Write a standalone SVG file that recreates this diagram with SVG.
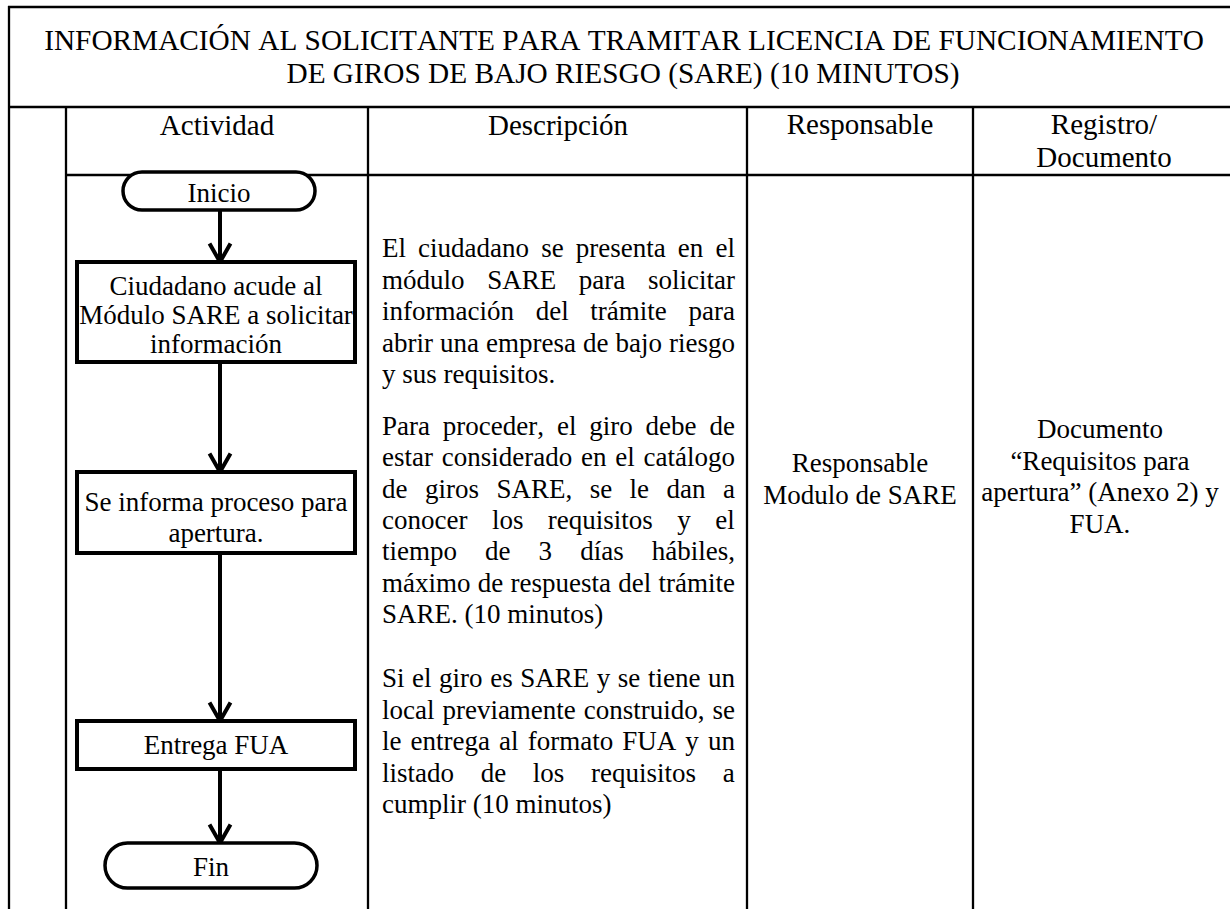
<svg xmlns="http://www.w3.org/2000/svg" width="1230" height="909" viewBox="0 0 1230 909">
<style>
text{font-family:"Liberation Serif","Times New Roman",serif;fill:#000;font-kerning:none}
.title{font-size:29.3px;text-anchor:middle}
.hd{font-size:29px;text-anchor:middle}
.b{font-size:27px}
.c{font-size:27px;text-anchor:middle}
.grid{stroke:#000;stroke-width:2.3;fill:none}
.box{fill:#fff;stroke:#000;stroke-width:4}
.term{fill:#fff;stroke:#000;stroke-width:3.5}
.conn{stroke:#000;stroke-width:4;fill:none;stroke-linejoin:miter}
</style>
<rect width="1230" height="909" fill="#fff"/>
<g id="table" class="grid">
<line x1="8" y1="7" x2="1230" y2="7"/>
<line x1="9" y1="6" x2="9" y2="909"/>
<line x1="9" y1="107" x2="1230" y2="107"/>
<line x1="66" y1="107" x2="66" y2="909"/>
<line x1="66" y1="175" x2="1230" y2="175"/>
<line x1="368" y1="107" x2="368" y2="909"/>
<line x1="747" y1="107" x2="747" y2="909"/>
<line x1="973" y1="107" x2="973" y2="909"/>
</g>
<g id="title">
<text class="title" x="624" y="50">INFORMACIÓN AL SOLICITANTE PARA TRAMITAR LICENCIA DE FUNCIONAMIENTO</text>
<text class="title" x="623" y="83">DE GIROS DE BAJO RIESGO (SARE) (10 MINUTOS)</text>
</g>
<g id="headers">
<text class="hd" x="217" y="135">Actividad</text>
<text class="hd" x="558" y="135">Descripción</text>
<text class="hd" x="860" y="134">Responsable</text>
<text class="hd" x="1104" y="134">Registro/</text>
<text class="hd" x="1104" y="167">Documento</text>
</g>
<g id="connectors" class="conn">
<path d="M220 210V260M209.5 243.5L220 262L230.5 243.5"/>
<path d="M220 362V470M209.5 453.5L220 472L230.5 453.5"/>
<path d="M220 553V719M209.5 702.5L220 721L230.5 702.5"/>
<path d="M220 769V841M209.5 824.5L220 843L230.5 824.5"/>
</g>
<g id="inicio">
<rect class="term" x="123" y="172" width="192" height="38" rx="19"/>
<text class="c" x="219" y="202">Inicio</text>
</g>
<g id="ciudadano">
<rect class="box" x="77" y="262" width="278" height="100"/>
<text class="c" x="216" y="295">Ciudadano acude al</text>
<text class="c" x="216" y="324">Módulo SARE a solicitar</text>
<text class="c" x="216" y="353">información</text>
</g>
<g id="informa">
<rect class="box" x="77" y="472" width="278" height="81"/>
<text class="c" x="216" y="511">Se informa proceso para</text>
<text class="c" x="216" y="542">apertura.</text>
</g>
<g id="entrega">
<rect class="box" x="77" y="721" width="278" height="48"/>
<text class="c" x="216" y="754">Entrega FUA</text>
</g>
<g id="fin">
<rect class="term" x="105" y="843" width="212" height="45" rx="22.5"/>
<text class="c" x="211" y="876">Fin</text>
</g>
<g id="descripcion" class="b">
<text x="382" y="257" word-spacing="5.37">El ciudadano se presenta en el</text>
<text x="382" y="288.5" word-spacing="15.92">módulo SARE para solicitar</text>
<text x="382" y="320" word-spacing="14.94">información del trámite para</text>
<text x="382" y="351.5" word-spacing="0.27">abrir una empresa de bajo riesgo</text>
<text x="382" y="383">y sus requisitos.</text>
<text x="382" y="435" word-spacing="6.12">Para proceder, el giro debe de</text>
<text x="382" y="466.3" word-spacing="2.03">estar considerado en el catálogo</text>
<text x="382" y="497.6" word-spacing="10.71">de giros SARE, se le dan a</text>
<text x="382" y="528.9" word-spacing="17.69">conocer los requisitos y el</text>
<text x="382" y="560.2" word-spacing="21.32">tiempo de 3 días hábiles,</text>
<text x="382" y="591.5" word-spacing="0.51">máximo de respuesta del trámite</text>
<text x="382" y="622.8">SARE. (10 minutos)</text>
<text x="382" y="687" word-spacing="0.81">Si el giro es SARE y se tiene un</text>
<text x="382" y="718.5" word-spacing="1.19">local previamente construido, se</text>
<text x="382" y="750" word-spacing="2.34">le entrega al formato FUA y un</text>
<text x="382" y="781.5" word-spacing="19.93">listado de los requisitos a</text>
<text x="382" y="813">cumplir (10 minutos)</text>
</g>
<g id="responsable">
<text class="c" x="860" y="472">Responsable</text>
<text class="c" x="860" y="504">Modulo de SARE</text>
</g>
<g id="registro">
<text class="c" x="1100" y="438">Documento</text>
<text class="c" x="1100" y="469.5">“Requisitos para</text>
<text class="c" x="1100" y="501">apertura” (Anexo 2) y</text>
<text class="c" x="1100" y="532.5">FUA.</text>
</g>
</svg>
